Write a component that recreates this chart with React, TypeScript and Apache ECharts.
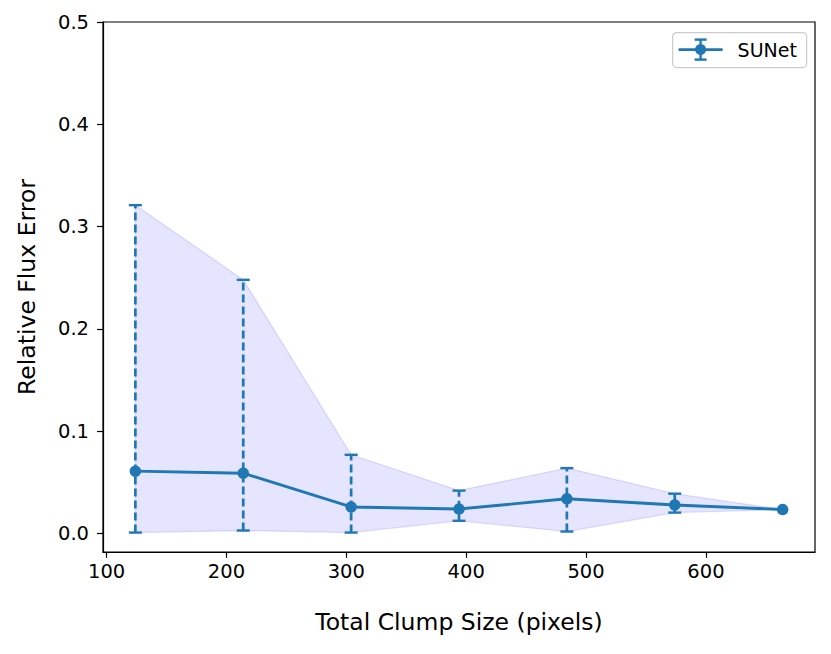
import React, { useEffect, useRef } from "react";
import * as echarts from "echarts";

const sizes = [124, 214, 304, 394, 484, 574, 664];
const meanErr = [0.061, 0.059, 0.026, 0.024, 0.034, 0.028, 0.0235];
const upperErr = [0.321, 0.248, 0.077, 0.042, 0.064, 0.039, 0.0235];
const lowerErr = [0.001, 0.003, 0.001, 0.0125, 0.002, 0.0205, 0.0235];
const xTicks = [100, 200, 300, 400, 500, 600];
const yTicks = [0.0, 0.1, 0.2, 0.3, 0.4, 0.5];
const seriesName = "SUNet";

const BLUE = "#1f77b4";
const FONT = "DejaVu Sans";

export default function App() {
  const ref = useRef<HTMLDivElement>(null);
  useEffect(() => {
    if (!ref.current) return;
    const chart = echarts.init(ref.current, undefined, { renderer: "svg" });
    const option: any = {
      animation: false,
      backgroundColor: "#ffffff",
      textStyle: { fontFamily: FONT },
      grid: {
        left: 103,
        right: 16,
        top: 22,
        bottom: 102,
        show: true,
        borderColor: "#000",
        borderWidth: 1.2,
        backgroundColor: "transparent",
      },
      xAxis: {
        type: "value",
        min: 97,
        max: 691,
        name: "Total Clump Size (pixels)",
        nameLocation: "middle",
        nameGap: 58,
        nameTextStyle: { fontSize: 23.5, color: "#000", fontFamily: FONT },
        axisLine: { show: true, onZero: false, lineStyle: { color: "#000", width: 1.2 } },
        axisTick: { show: true, length: 6, lineStyle: { color: "#000", width: 1.2 }, customValues: xTicks },
        axisLabel: {
          customValues: xTicks,
          fontSize: 19.5,
          color: "#000",
          margin: 9,
          fontFamily: FONT,
        },
        splitLine: { show: false },
      },
      yAxis: {
        type: "value",
        min: -0.018,
        max: 0.5,
        name: "Relative Flux Error",
        nameLocation: "middle",
        nameGap: 64,
        nameTextStyle: { fontSize: 23.5, color: "#000", fontFamily: FONT },
        axisLine: { show: true, onZero: false, lineStyle: { color: "#000", width: 1.2 } },
        axisTick: { show: true, length: 6, lineStyle: { color: "#000", width: 1.2 }, customValues: yTicks },
        axisLabel: {
          customValues: yTicks,
          fontSize: 19.5,
          color: "#000",
          margin: 14,
          fontFamily: FONT,
          formatter: (v: number) => v.toFixed(1),
        },
        splitLine: { show: false },
      },
      series: [
        {
          type: "custom",
          name: "band",
          z: 1,
          silent: true,
          data: [[0]],
          renderItem: (params: any, api: any) => {
            const pts: number[][] = [];
            for (let i = 0; i < sizes.length; i++) pts.push(api.coord([sizes[i], upperErr[i]]));
            for (let i = sizes.length - 1; i >= 0; i--) pts.push(api.coord([sizes[i], lowerErr[i]]));
            return {
              type: "polygon",
              shape: { points: pts },
              style: { fill: "rgba(0,0,255,0.1)", stroke: "rgba(0,0,255,0.12)", lineWidth: 1.3 },
            };
          },
        },
        {
          type: "custom",
          name: "errorbars",
          z: 2,
          silent: true,
          data: sizes.map((x, i) => [x, lowerErr[i], upperErr[i]]),
          renderItem: (params: any, api: any) => {
            const x = api.value(0);
            const lo = api.value(1);
            const hi = api.value(2);
            if (hi - lo < 1e-9) return null;
            const pLo = api.coord([x, lo]);
            const pHi = api.coord([x, hi]);
            const cap = 6.5;
            const lw = 2.7;
            return {
              type: "group",
              children: [
                {
                  type: "line",
                  shape: { x1: pLo[0], y1: pLo[1], x2: pHi[0], y2: pHi[1] },
                  style: { stroke: BLUE, lineWidth: lw, lineDash: [8, 4] },
                },
                {
                  type: "line",
                  shape: { x1: pLo[0] - cap, y1: pLo[1], x2: pLo[0] + cap, y2: pLo[1] },
                  style: { stroke: BLUE, lineWidth: 2.4 },
                },
                {
                  type: "line",
                  shape: { x1: pHi[0] - cap, y1: pHi[1], x2: pHi[0] + cap, y2: pHi[1] },
                  style: { stroke: BLUE, lineWidth: 2.4 },
                },
              ],
            };
          },
        },
        {
          type: "line",
          name: seriesName,
          z: 3,
          data: sizes.map((x, i) => [x, meanErr[i]]),
          symbol: "circle",
          symbolSize: 11.5,
          showSymbol: true,
          lineStyle: { color: BLUE, width: 2.9 },
          itemStyle: { color: BLUE },
        },
      ],
      graphic: [
        {
          type: "group",
          left: 672,
          top: 32,
          children: [
            {
              type: "rect",
              shape: { x: 0, y: 0, width: 134, height: 35, r: 4 },
              style: { fill: "rgba(255,255,255,0.8)", stroke: "#cccccc", lineWidth: 1.2 },
            },
            {
              type: "line",
              shape: { x1: 6, y1: 17, x2: 50, y2: 17 },
              style: { stroke: BLUE, lineWidth: 2.8 },
            },
            {
              type: "line",
              shape: { x1: 28, y1: 7, x2: 28, y2: 27 },
              style: { stroke: BLUE, lineWidth: 2.4 },
            },
            {
              type: "line",
              shape: { x1: 22, y1: 7, x2: 34, y2: 7 },
              style: { stroke: BLUE, lineWidth: 2.4 },
            },
            {
              type: "line",
              shape: { x1: 22, y1: 27, x2: 34, y2: 27 },
              style: { stroke: BLUE, lineWidth: 2.4 },
            },
            {
              type: "circle",
              shape: { cx: 28, cy: 17, r: 5.5 },
              style: { fill: BLUE },
            },
            {
              type: "text",
              x: 65,
              y: 17,
              style: {
                text: seriesName,
                fontSize: 19,
                fontFamily: FONT,
                fill: "#000",
                verticalAlign: "middle",
                align: "left",
              },
            },
          ],
        },
      ],
    };
    chart.setOption(option);
    return () => chart.dispose();
  }, []);
  return (
    <div
      ref={ref}
      style={{ position: "absolute", left: 0, top: 0, width: 831, height: 654 }}
    />
  );
}
